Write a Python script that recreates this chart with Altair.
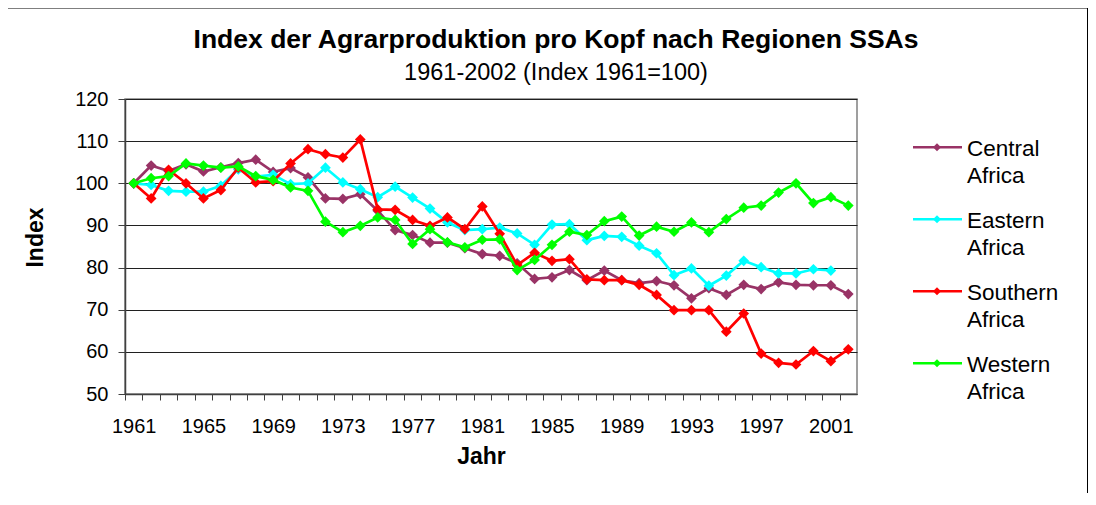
import altair as alt
import pandas as pd

years = list(range(1961, 2003))
regions = ["Central Africa", "Eastern Africa", "Southern Africa", "Western Africa"]
colors = ["#993366", "#00FFFF", "#FF0000", "#00FF00"]
title_text = "Index der Agrarproduktion pro Kopf nach Regionen SSAs"
subtitle_text = "1961-2002 (Index 1961=100)"

central = [100, 104.2, 102.9, 104.5, 102.8, 103.8, 104.8, 105.6, 102.7, 103.6,
           101.4, 96.4, 96.3, 97.4, 93.5, 88.9, 87.7, 85.9, 85.9, 84.6,
           83.2, 82.8, 81.0, 77.3, 77.7, 79.4, 77.0, 79.3, 77.0, 76.3,
           76.8, 75.8, 72.7, 75.1, 73.5, 75.9, 74.9, 76.5, 75.9, 75.8,
           75.8, 73.7]
eastern = [100, 99.6, 98.2, 98.0, 98.0, 99.4, 103.3, 101.6, 102.0, 99.8,
           100.0, 103.7, 100.2, 98.6, 96.7, 99.2, 96.6, 94.0, 90.7, 88.9,
           89.1, 89.5, 88.1, 85.4, 90.2, 90.3, 86.5, 87.5, 87.3, 85.2,
           83.4, 78.2, 79.8, 75.7, 78.1, 81.6, 80.1, 78.6, 78.6, 79.6,
           79.3, None]
southern = [100, 96.4, 103.2, 100.0, 96.4, 98.4, 103.7, 100.2, 100.5, 104.7,
            108.1, 106.9, 106.1, 110.4, 93.8, 93.7, 91.3, 89.9, 91.9, 89.1,
            94.5, 88.0, 80.6, 83.5, 81.6, 82.0, 77.2, 77.0, 77.0, 75.9,
            73.5, 69.9, 69.9, 69.9, 64.8, 69.1, 59.6, 57.4, 57.0, 60.2,
            57.8, 60.6]
western = [100, 101.2, 101.7, 104.7, 104.2, 103.7, 104.0, 101.7, 100.8, 99.0,
           98.2, 90.9, 88.4, 89.9, 91.9, 91.3, 85.6, 89.1, 86.0, 84.8,
           86.6, 86.7, 79.4, 81.8, 85.4, 88.5, 87.7, 91.0, 92.1, 87.6,
           89.7, 88.5, 90.7, 88.4, 91.5, 94.2, 94.7, 97.8, 100.0, 95.3,
           96.7, 94.7]

series = [central, eastern, southern, western]
rows = []
for r, vals in zip(regions, series):
    for y, v in zip(years, vals):
        if v is not None:
            rows.append({"year": y, "region": r, "value": v})
df = pd.DataFrame(rows)

FONT = "Liberation Sans"
W, H = 732, 295
step = W / 42.0

color_scale = alt.Scale(domain=regions, range=colors)

x_enc = alt.X(
    "year:Q",
    scale=alt.Scale(domain=[1960.5, 2002.5], nice=False, zero=False),
    axis=alt.Axis(
        values=years, format="d",
        labelExpr="(datum.value - 1961) % 4 == 0 ? datum.label : ''",
        tickOffset=-step / 2, labelOffset=step / 2,
        tickSize=6, tickColor="#404040", domainColor="#404040", domainWidth=1.5,
        labelFontSize=20, labelFont=FONT, labelColor="black", labelPadding=16,
        labelOverlap=False, labelFlush=False, grid=False,
        title="Jahr", titleFont=FONT, titleFontSize=23, titleFontWeight="bold",
        titleColor="black", titleX=356, titleY=69, titleBaseline="alphabetic",
        titleAlign="center",
    ),
)
y_enc = alt.Y(
    "value:Q",
    scale=alt.Scale(domain=[50, 120], nice=False, zero=False),
    axis=alt.Axis(
        values=[50, 60, 70, 80, 90, 100, 110, 120],
        tickSize=7, tickColor="#404040", domainColor="#404040", domainWidth=1.5,
        labelFontSize=20, labelFont=FONT, labelColor="black", labelPadding=10,
        grid=True, gridColor="#202020", gridWidth=1,
        title="Index", titleFont=FONT, titleFontSize=23, titleFontWeight="bold",
        titleColor="black", titleX=-90, titleY=138, titleAngle=-90,
        titleAlign="center", titleBaseline="middle",
    ),
)

layers = []
for r in regions:
    layers.append(
        alt.Chart(df).transform_filter(alt.datum.region == r).mark_line(
            strokeWidth=2.7,
            point=alt.OverlayMarkDef(shape="diamond", filled=True, size=115, opacity=1),
        ).encode(
            x=x_enc, y=y_enc,
            color=alt.Color("region:N", scale=color_scale, legend=None),
        )
    )
main = alt.layer(*layers)

leg_df = pd.DataFrame({"region": regions, "idx": [0, 1, 2, 3]})
leg_y = alt.Y("idx:Q", scale=alt.Scale(domain=[0, 3], range=[48.3, 264.3]), axis=None)
leg_color = alt.Color("region:N", scale=color_scale, legend=None)
leg_rule = alt.Chart(leg_df).mark_rule(strokeWidth=2.5).encode(
    x=alt.value(788), x2=alt.value(837), y=leg_y, color=leg_color)
leg_pt = alt.Chart(leg_df).mark_point(shape="diamond", filled=True, size=64, opacity=1).encode(
    x=alt.value(812), y=leg_y, color=leg_color)
leg_txt = alt.Chart(leg_df).mark_text(
    align="left", baseline="top", dy=-9, fontSize=22.5, font=FONT,
    lineHeight=27, lineBreak=" ", color="black",
).encode(x=alt.value(842), y=leg_y, text="region:N")
legend = alt.layer(leg_rule, leg_pt, leg_txt)

fr_df = pd.DataFrame({"k": [0]})
frame_left = alt.Chart(fr_df).mark_rule(color="black", strokeWidth=1).encode(
    x=alt.value(-117.5), y=alt.value(-91), y2=alt.value(H + 99))
frame_top = alt.Chart(fr_df).mark_rule(color="black", strokeWidth=1).encode(
    x=alt.value(-117.5), x2=alt.value(962.5), y=alt.value(-91))
frame_right = alt.Chart(fr_df).mark_rule(color="black", strokeWidth=1).encode(
    x=alt.value(962.5), y=alt.value(-91), y2=alt.value(H + 99))

ttl_df = pd.DataFrame({"t": [title_text], "s": [subtitle_text]})
title_mark = alt.Chart(ttl_df).mark_text(
    align="center", baseline="alphabetic", font=FONT, fontSize=26.5,
    fontWeight="bold", color="black",
).encode(x=alt.value(431), y=alt.value(-51), text="t:N")
subtitle_mark = alt.Chart(ttl_df).mark_text(
    align="center", baseline="alphabetic", font=FONT, fontSize=23.5, color="black",
).encode(x=alt.value(431), y=alt.value(-19), text="s:N")

chart = alt.layer(
    main, legend, frame_left, frame_top, frame_right, title_mark, subtitle_mark
).resolve_scale(
    y="independent"
).properties(
    width=W, height=H,
    autosize=alt.AutoSizeParams(type="none"),
    padding={"left": 117, "top": 91, "right": 231, "bottom": 99},
).configure(background="white").configure_view(stroke="#808080", strokeWidth=1.5)

chart.save("out.html", embed_options={"renderer": "svg", "actions": False})
